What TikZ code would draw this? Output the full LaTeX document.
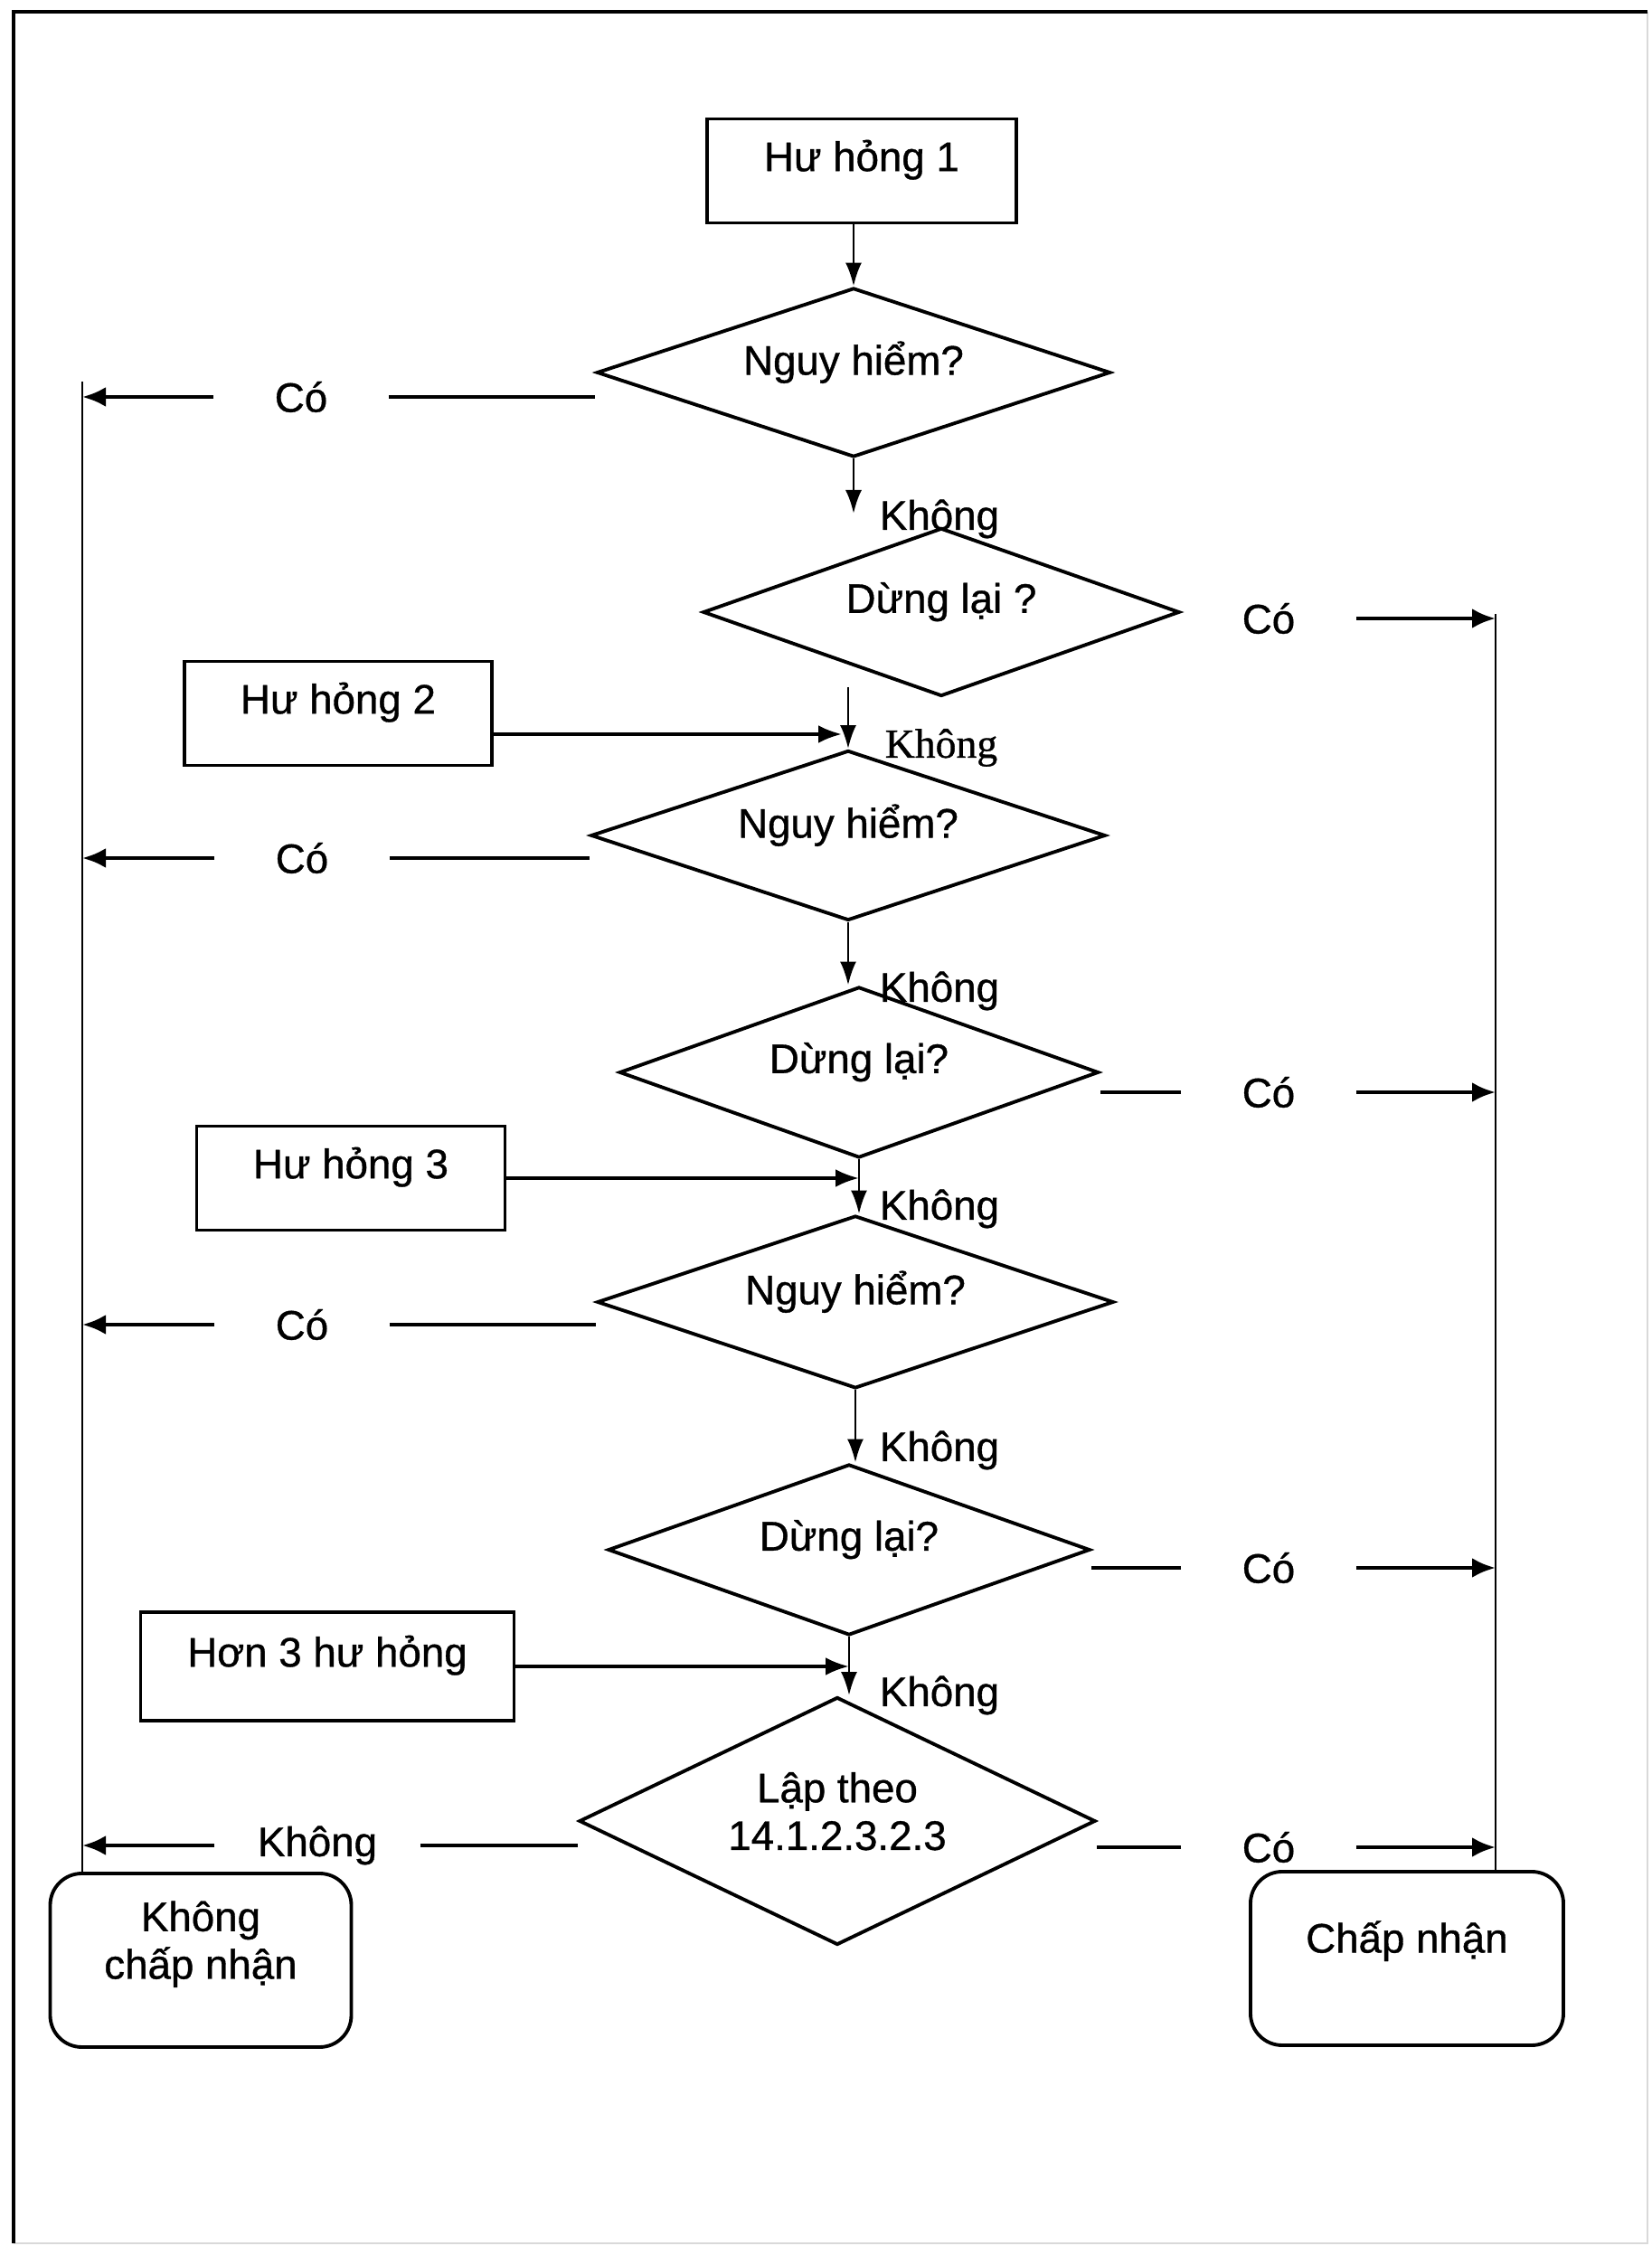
\documentclass[tikz,border=0pt]{standalone}
\usepackage{fontspec}
\setmainfont{Liberation Sans}[FakeBold=0.8]
\newfontfamily\timesvi{Liberation Serif}[FakeBold=0.8]
\usetikzlibrary{shapes.geometric, arrows.meta}
\definecolor{framegray}{gray}{0.85}
\tikzset{
	txt/.style={font=\fontsize{13}{15}\selectfont},
	hbox/.style={txt, draw, line width=1.1pt, minimum height=1.15cm, text depth=3.4mm},
	ask/.style={txt, draw, diamond, aspect=3, inner sep=0pt, line width=1.1pt, text depth=3.2mm},
	endbox/.style={txt, draw, rounded corners=0.35cm, line width=1.1pt, minimum height=1.92cm, align=center},
	ans/.style={txt, inner xsep=6.7mm, inner ysep=0pt},
	khong/.style={txt, inner sep=0pt},
	side/.style={line width=0.7pt},
	seg/.style={line width=1.3pt},
	segarr/.style={seg, -{Latex[length=2.6mm, width=2.2mm]}},
	down/.style={line width=0.8pt, -{Latex[length=2.6mm, width=1.8mm]}},
	feed/.style={line width=1.1pt, -{Latex[length=2.6mm, width=2mm]}}
}

\begin{document}
\begin{tikzpicture}
				\useasboundingbox (0,0) rectangle (18.26,24.84);
				% Frame
				\draw[framegray, line width=0.6pt] (0.15,0.03) -- (18.22,0.03) -- (18.22,24.71);
				\draw[line width=1.3pt] (0.15,0.03) -- (0.15,24.71) -- (18.22,24.71);

				% Faults and questions
				\node[hbox, minimum width=3.42cm] (h1) at (9.53,22.95) {Hư hỏng 1};
				\node[ask, minimum width=5.68cm, minimum height=1.87cm] (d1) at (9.44,20.72) {Nguy hiểm?};
				\node[ask, minimum width=5.27cm, minimum height=1.86cm] (d2) at (10.41,18.07) {Dừng lại ?};
				\node[hbox, minimum width=3.40cm] (h2) at (3.74,16.95) {Hư hỏng 2};
				\node[ask, minimum width=5.69cm, minimum height=1.88cm] (d3) at (9.38,15.60) {Nguy hiểm?};
				\node[ask, minimum width=5.30cm, minimum height=1.89cm] (d4) at (9.50,12.98) {Dừng lại?};
				\node[hbox, minimum width=3.41cm] (h3) at (3.88,11.81) {Hư hỏng 3};
				\node[ask, minimum width=5.71cm, minimum height=1.91cm] (d5) at (9.46,10.44) {Nguy hiểm?};
				\node[ask, minimum width=5.33cm, minimum height=1.89cm] (d6) at (9.39,7.70) {Dừng lại?};
				\node[hbox, minimum width=4.13cm, minimum height=1.20cm] (h4) at (3.62,6.41) {Hơn 3 hư hỏng};
				\node[ask, minimum width=5.71cm, minimum height=2.74cm, align=center, text depth=2.2mm] (d7) at (9.26,4.70) {Lập theo\\14.1.2.3.2.3};

				% Outcomes
				\node[endbox, minimum width=3.33cm, text depth=4.5mm] (nok) at (2.22,3.16) {Không\\chấp nhận};
				\node[endbox, minimum width=3.46cm, text depth=4.8mm] (ok) at (15.56,3.18) {Chấp nhận};

				% Side lines
				\coordinate (ltop) at (0.91,20.62);
				\coordinate (rtop) at (16.54,18.05);
				\draw[side] (ltop) -- (ltop |- nok.north);
				\draw[side] (rtop) -- (rtop |- ok.north);

				% Down the middle
				\coordinate (k1) at (9.44,19.16);
				\coordinate (k2) at (9.38,17.24);
				\coordinate (j2) at (9.31,16.72);
				\draw[down] (h1.south -| d1.north) -- (d1.north);
				\draw[down] (d1.south) -- (k1);
				\draw[down] (k2) -- (d3.north);
				\draw[down] (d3.south) -- (d3.south |- d4.north);
				\draw[down] (d4.south) -- (d4.south |- d5.north);
				\draw[down] (d5.south) -- (d5.south |- d6.north);
				\draw[down] (d6.south) -- (d6.south |- d7.north);
				\draw[feed] (h2.east |- j2) -- (j2);
				\draw[feed] (h3.east) -- (h3.east -| d4.south);
				\draw[feed] (h4.east) -- (h4.east -| d6.south);

				% "Khong" labels
				\node[khong] (n1) at (10.39,19.10) {Không};
				\node[khong, font=\timesvi\fontsize{13}{15}\selectfont] (n2) at (10.41,16.57) {Không};
				\node[khong] (n3) at (10.39,13.88) {Không};
				\node[khong] (n4) at (10.39,11.47) {Không};
				\node[khong] (n5) at (10.39,8.80) {Không};
				\node[khong] (n6) at (10.39,6.09) {Không};

				% Left answers
				\node[ans] (c1) at (3.33,20.45) {Có};
				\node[ans] (c2) at (3.34,15.35) {Có};
				\node[ans] (c3) at (3.34,10.19) {Có};
				\node[ans, inner xsep=4.7mm] (c4) at (3.51,4.43) {Không};
				\foreach \a/\d in {c1/d1, c2/d3, c3/d5, c4/d7} {
					\draw[seg] (\a) -- (\a -| \d.west);
					\draw[segarr] (\a) -- (\a -| ltop);
				}

				% Right answers
				\node[ans] (r1) at (14.03,18.00) {Có};
				\node[ans] (r2) at (14.03,12.76) {Có};
				\node[ans] (r3) at (14.03,7.50) {Có};
				\node[ans] (r4) at (14.03,4.41) {Có};
				\foreach \a/\d in {r2/d4, r3/d6, r4/d7} {
					\draw[seg] (\a) -- (\a -| \d.east);
				}
				\foreach \a in {r1, r2, r3, r4} {
					\draw[segarr] (\a) -- (\a -| rtop);
				}
\end{tikzpicture}
\end{document}
